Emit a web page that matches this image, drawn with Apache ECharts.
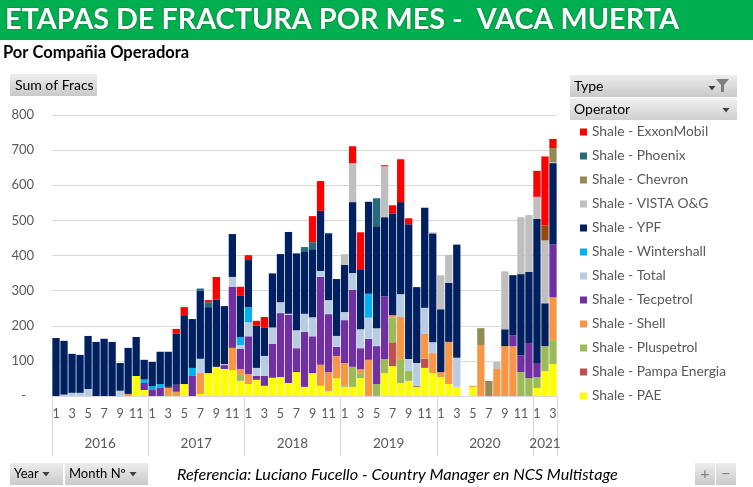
<!DOCTYPE html>
<html><head><meta charset="utf-8">
<script src="https://cdn.jsdelivr.net/npm/echarts@6/dist/echarts.min.js"></script>
<style>html,body{margin:0;padding:0;background:#fff}#c{width:753px;height:487px}</style>
</head><body><div id="c"></div>
<script>
// ---- tick labels ----
const years = ['2016','2017','2018','2019','2020','2021'];
const monthsPerYear = [12,12,12,12,12,3];
const yTicks = [0,100,200,300,400,500,600,700,800];

// ---- series values (Sum of Fracs per month, 2016-01 .. 2021-03) ----
const ExxonMobil = [0,0,0,0,0,0,0,0,0,0,0,0, 0,0,0,14,23,0,0,6,65,0,0,26, 14,14,31,0,0,0,0,0,74,85,0,0, 0,48,105,0,0,3,23,122,17,0,0,0, 0,0,0,0,0,0,0,0,0,0,0,0, 74,196,26];
const Otro       = [0,0,0,0,0,0,0,0,0,0,0,0, 0,0,0,0,0,0,0,0,0,0,0,0, 0,0,0,0,0,0,0,0,0,0,0,0, 0,0,0,0,0,0,0,0,0,0,0,0, 0,0,0,0,0,0,0,0,0,0,0,0, 0,43,0];
const Phoenix    = [0,0,0,0,0,0,0,0,0,0,0,0, 0,0,0,0,0,0,6,14,0,0,0,0, 0,0,0,0,0,0,0,14,20,0,3,0, 0,0,0,0,80,0,0,0,0,0,0,0, 0,0,0,0,0,0,0,0,0,0,0,0, 0,0,0];
const Chevron    = [0,0,0,0,0,0,0,0,0,0,0,0, 0,0,0,0,0,0,0,0,0,0,0,0, 0,0,0,0,0,0,0,0,0,0,0,0, 0,0,0,0,0,0,0,0,0,0,0,0, 0,0,0,0,0,48,43,0,0,0,0,0, 0,0,40];
const Vista      = [0,0,0,0,0,0,0,0,0,0,0,0, 0,0,0,0,0,0,0,0,0,0,0,0, 0,0,0,0,0,0,0,0,0,0,0,0, 31,111,0,0,0,145,0,0,0,0,0,3, 97,80,0,0,0,0,0,20,165,0,162,162, 63,179,3];
const YPF        = [165,153,111,108,151,154,163,154,79,131,111,56, 69,92,100,145,196,139,194,188,191,165,122,117, 134,120,80,154,137,233,219,176,194,171,188,162, 134,202,171,262,290,225,290,262,384,216,285,310, 179,168,322,0,0,0,0,0,48,171,231,202, 410,122,231];
const Wintershall= [0,0,0,0,0,0,0,0,0,0,0,10, 11,11,0,0,0,23,0,0,0,0,0,23, 43,0,0,0,0,0,0,0,0,0,0,0, 0,0,0,68,0,0,0,0,0,0,0,0, 0,0,0,0,0,0,0,0,0,0,0,0, 0,0,0];
const Total      = [0,4,9,9,20,0,0,0,15,0,0,0, 0,0,0,0,0,0,40,0,0,3,28,11, 40,23,57,46,31,3,51,51,54,17,40,31, 23,48,54,60,51,0,0,65,34,65,74,31, 0,0,83,0,0,0,0,0,0,0,0,0, 0,0,0];
const Tecpetrol  = [0,0,0,0,0,0,0,0,0,0,0,20, 17,23,3,20,0,57,0,0,0,11,174,57, 108,11,28,97,182,194,68,157,105,250,165,26, 122,219,60,60,108,179,0,0,0,0,0,0, 0,0,0,0,0,0,0,0,0,31,48,100, 40,0,151];
const Shell      = [0,0,0,0,0,0,0,0,0,6,0,0, 0,0,23,12,0,0,60,0,0,0,63,17, 28,0,0,0,0,0,0,0,0,60,54,63, 65,0,11,103,0,0,6,120,0,0,71,57, 14,120,0,0,3,145,0,77,142,142,0,0, 0,0,122];
const Pluspetrol = [0,0,0,0,0,0,0,0,0,0,0,0, 0,0,0,0,0,0,0,0,0,0,0,17, 0,0,0,0,0,0,0,0,0,0,0,0, 3,57,14,0,34,40,71,68,28,0,0,0, 0,0,0,0,0,0,0,0,0,0,68,51, 31,71,68];
const Pampa      = [0,0,0,0,0,0,0,0,0,0,0,0, 0,0,0,0,0,0,0,0,0,0,0,0, 0,0,0,0,0,0,0,0,0,0,0,0, 0,0,0,0,0,0,68,0,0,3,26,0, 0,0,0,0,0,0,0,0,0,0,0,0, 0,0,0];
const PAE        = [0,0,0,0,0,0,0,0,0,0,57,17, 0,0,0,0,34,0,6,65,83,77,74,43, 34,46,29,52,54,37,68,26,65,29,14,51, 26,26,51,0,0,65,85,37,43,26,80,65, 54,34,26,0,26,0,0,0,0,0,0,0, 23,71,91];

// categories built from tick labels
const categories = [];
years.forEach((y, yi) => { for (let m = 1; m <= monthsPerYear[yi]; m++) categories.push(y + '-' + m); });

// stack order bottom -> top
const seriesDefs = [
  ['Shale - PAE', PAE, '#FFFF00'],
  ['Shale - Pampa Energia', Pampa, '#C0504D'],
  ['Shale - Pluspetrol', Pluspetrol, '#9BBB59'],
  ['Shale - Shell', Shell, '#F79646'],
  ['Shale - Tecpetrol', Tecpetrol, '#7030A0'],
  ['Shale - Total', Total, '#B8CCE4'],
  ['Shale - Wintershall', Wintershall, '#00B0F0'],
  ['Shale - YPF', YPF, '#002060'],
  ['Shale - VISTA O&G', Vista, '#BFBFBF'],
  ['Shale - Chevron', Chevron, '#948A54'],
  ['Shale - Phoenix', Phoenix, '#276A7C'],
  ['Shale - Otro', Otro, '#984807'],
  ['Shale - ExxonMobil', ExxonMobil, '#FF0000']
];
const legendOrder = ['Shale - ExxonMobil','Shale - Phoenix','Shale - Chevron','Shale - VISTA O&G','Shale - YPF','Shale - Wintershall','Shale - Total','Shale - Tecpetrol','Shale - Shell','Shale - Pluspetrol','Shale - Pampa Energia','Shale - PAE'];

const FONT = 'Lato, "Open Sans", sans-serif';
const GREY = '#595959';
const btnFill = {type:'linear',x:0,y:0,x2:0,y2:1,colorStops:[{offset:0,color:'#EDEDED'},{offset:1,color:'#C9C9C9'}]};

function btn(x, y, w, h) {
  return {type:'rect', shape:{x:x, y:y, width:w, height:h}, style:{fill:btnFill}, z:1};
}
function txt(x, y, s, font, color, align) {
  return {type:'text', z:2, style:{x:x, y:y, text:s, font:font, fill:color||'#000', textAlign:align||'left', align:align||'left', textVerticalAlign:'middle', verticalAlign:'middle'}};
}
function tri(cx, cy, fill) {
  return {type:'polygon', z:2, shape:{points:[[cx-3.5,cy-2],[cx+3.5,cy-2],[cx,cy+2.5]]}, style:{fill:fill||'#404040'}};
}

const chart = echarts.init(document.getElementById('c'), null, {renderer:'canvas'});
chart.setOption({
  animation: false,
  backgroundColor: '#fff',
  title: [
    {text:'ETAPAS DE FRACTURA POR MES -  VACA MUERTA', left:5, top:0, padding:0, z:10,
     textStyle:{color:'#fff', fontSize:28.8, fontWeight:'bold', fontFamily:FONT, lineHeight:40,
       textShadowColor:'rgba(0,0,0,0.45)', textShadowBlur:2}},
    {text:'Por Compañia Operadora', left:3, top:45, padding:0,
     textStyle:{color:'#000', fontSize:16.5, fontWeight:'bold', fontFamily:FONT, lineHeight:16}}
  ],
  graphic: [
    {type:'rect', shape:{x:0, y:0, width:753, height:40}, style:{fill:'#00B050'}, z:0},
    btn(10,74,87,22), txt(15,85,'Sum of Fracs','14px '+FONT,'#000'),
    btn(570,75,167,22), txt(574,86,'Type','14px '+FONT,'#000'),
    tri(712,88,'#404040'),
    {type:'polygon', z:2, shape:{points:[[716,79],[729,79],[724,85],[724,92],[721,92],[721,85]]}, style:{fill:'#7F7F7F'}},
    {type:'rect', shape:{x:570, y:98, width:167, height:22}, style:{fill:{type:'linear',x:0,y:0,x2:0,y2:1,colorStops:[{offset:0,color:'#F2F2F2'},{offset:1,color:'#CFCFCF'}]}}, z:1},
    txt(574,109,'Operator','14px '+FONT,'#000'),
    tri(726,110,'#404040'),
    btn(10,463,53,22), txt(14,474,'Year','13px '+FONT,'#000'), tri(46,474,'#404040'),
    btn(65,463,83,22), txt(69,474,'Month Nº','13px '+FONT,'#000'), tri(133,474,'#404040'),
    txt(177,475,'Referencia: Luciano Fucello - Country Manager en NCS Multistage','italic 16.2px '+FONT,'#000'),
    btn(695,463,20,22), txt(705,474,'+','16px '+FONT,'#7F7F7F','center'),
    btn(716,463,20,22), txt(726,474,'−','16px '+FONT,'#7F7F7F','center')
  ],
  legend: {
    data: legendOrder, orient:'vertical', left:580, top:124, itemWidth:7, itemHeight:7, itemGap:8,
    icon:'rect', selectedMode:false, padding:0,
    textStyle:{color:GREY, fontSize:13.8, fontFamily:FONT, lineHeight:16}
  },
  grid: {left:52, right:196, top:115, bottom:91, containLabel:false},
  xAxis: [
    {type:'category', data:categories, position:'bottom',
     axisLine:{show:true, lineStyle:{color:'#D9D9D9'}}, axisTick:{show:false},
     axisLabel:{interval:(i)=>i%2===0, formatter:(v)=>v.split('-')[1], color:GREY, fontSize:12.5, fontFamily:FONT, margin:11}},
    {type:'category', data:categories, position:'bottom',
     axisLine:{show:false},
     axisTick:{show:true, length:60, lineStyle:{color:'#D9D9D9'}, interval:(i,v)=>v.split('-')[1]==='1'},
     axisLabel:{interval:(i,v)=>{const p=v.split('-'); return (p[0]!=='2021'&&p[1]==='6')||(p[0]==='2021'&&p[1]==='2');},
       formatter:(v)=>{const p=v.split('-'); return p[0]==='2021' ? '{b|'+p[0]+'}' : '{a|'+p[0]+'}';},
       color:GREY, fontSize:13, fontFamily:FONT, margin:41,
       rich:{a:{padding:[0,0,0,8], color:GREY, fontSize:13.5, fontFamily:FONT}, b:{color:GREY, fontSize:13.5, fontFamily:FONT}}}}
  ],
  yAxis: {type:'value', min:yTicks[0], max:yTicks[yTicks.length-1], interval:100,
    axisLine:{show:false}, axisTick:{show:false},
    splitLine:{lineStyle:{color:'#D9D9D9', width:1}},
    axisLabel:{color:GREY, fontSize:13, fontFamily:FONT, margin:18,
      formatter:(v)=> v===0 ? '{d|-}' : String(v),
      rich:{d:{padding:[0,8,0,0], color:GREY, fontSize:13, fontFamily:FONT}}}},
  series: seriesDefs.map(([name, data, color]) => ({
    name:name, type:'bar', stack:'fracs', data:data, barCategoryGap:'9%',
    itemStyle:{color:color}, emphasis:{disabled:true}, xAxisIndex:0
  }))
});
</script></body></html>
